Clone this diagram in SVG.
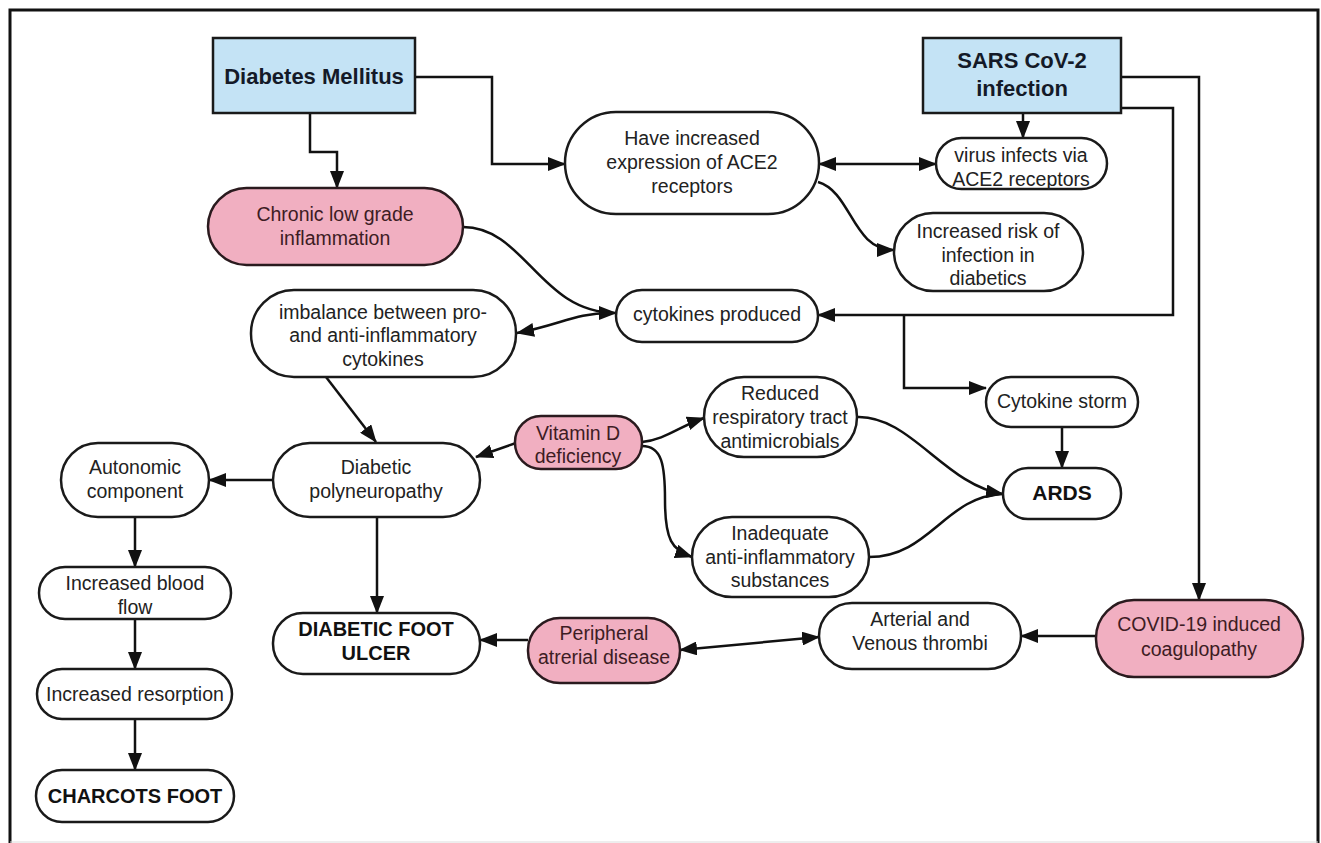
<svg xmlns="http://www.w3.org/2000/svg" width="1321" height="843" viewBox="0 0 1321 843">
<defs>
<marker id="ah" viewBox="0 0 18 14" refX="17" refY="7" markerWidth="18" markerHeight="14" markerUnits="userSpaceOnUse" orient="auto-start-reverse">
<path d="M0,0 L18,7 L0,14 z" fill="#111"/>
</marker>
<style>
.n{fill:#fff;stroke:#1a1a1a;stroke-width:2.5}
.p{fill:#f1afc1;stroke:#2a1a1e;stroke-width:2.5}
.b{fill:#c4e3f5;stroke:#1a1a1a;stroke-width:2.5}
text{font-family:"Liberation Sans",Arial,sans-serif;font-size:19.5px;fill:#222;text-anchor:middle}
.bt{font-weight:bold;font-size:21px;fill:#111}
.bl{font-weight:bold;font-size:22px;fill:#141a28}
.pt{fill:#3d1c24}
.c{fill:none;stroke:#111;stroke-width:2.5}
.c path,.c polyline{fill:none}
</style>
</defs>
<rect x="0" y="0" width="1321" height="843" fill="#fff"/>
<rect x="10" y="10" width="1308" height="840" fill="#fff" stroke="#111" stroke-width="3"/>
<line x1="10" y1="842" x2="1318" y2="842" stroke="#ddd" stroke-width="1"/>

<g id="connectors" class="c">
<polyline points="415,77 492,77 492,164 565,164" marker-end="url(#ah)"/>
<polyline points="310,113 310,152 337,152 337,188" marker-end="url(#ah)"/>
<polyline points="1023,113 1023,138" marker-end="url(#ah)"/>
<polyline points="819,164 936,164" marker-start="url(#ah)" marker-end="url(#ah)"/>
<path d="M818,182 C852,192 852,250 894,250" marker-end="url(#ah)"/>
<path d="M463,227 C525,227 540,313 616,313" marker-end="url(#ah)"/>
<path d="M517,333 C560,325 575,313 610,313" marker-start="url(#ah)"/>
<polyline points="1121,108 1173,108 1173,315 818,315" marker-end="url(#ah)"/>
<polyline points="904,315 904,388 986,388" marker-end="url(#ah)"/>
<polyline points="1121,77 1199,77 1199,600" marker-end="url(#ah)"/>
<polyline points="1062,427 1062,468" marker-end="url(#ah)"/>
<polyline points="326,377 376,442" marker-end="url(#ah)"/>
<polyline points="516,443 476,457" marker-end="url(#ah)"/>
<path d="M642,442 C665,440 680,426 704,418" marker-end="url(#ah)"/>
<path d="M642,446 C662,446 665,465 665,500 C665,540 672,550 692,557" marker-end="url(#ah)"/>
<path d="M857,417 C910,415 945,485 1003,494" marker-end="url(#ah)"/>
<path d="M869,557 C930,557 945,496 1003,494"/>
<polyline points="1096,636 1021,636" marker-end="url(#ah)"/>
<polyline points="819,637 680,650" marker-start="url(#ah)" marker-end="url(#ah)"/>
<polyline points="528,640 480,640" marker-end="url(#ah)"/>
<polyline points="273,480 209,480" marker-end="url(#ah)"/>
<polyline points="377,517 377,613" marker-end="url(#ah)"/>
<polyline points="135,517 135,567" marker-end="url(#ah)"/>
<polyline points="135,619 135,669" marker-end="url(#ah)"/>
<polyline points="135,719 135,770" marker-end="url(#ah)"/>
</g>

<g id="dm"><rect class="b" x="213" y="38" width="202" height="75"/><text class="bl" x="314" y="84">Diabetes Mellitus</text></g>
<g id="sars"><rect class="b" x="923" y="38" width="198" height="75"/><text class="bl" x="1022" y="68">SARS CoV-2</text><text class="bl" x="1022" y="96">infection</text></g>
<g id="ace2"><rect class="n" x="565" y="112" width="254" height="102" rx="51"/><text x="692" y="145">Have increased</text><text x="692" y="169">expression of ACE2</text><text x="692" y="193">receptors</text></g>
<g id="virus"><rect class="n" x="936" y="138" width="171" height="51" rx="25.5"/><text x="1021" y="162">virus infects via</text><text x="1021" y="186">ACE2 receptors</text></g>
<g id="risk"><rect class="n" x="894" y="213" width="189" height="78" rx="39"/><text x="988" y="238">Increased risk of</text><text x="988" y="262">infection in</text><text x="988" y="285">diabetics</text></g>
<g id="chronic"><rect class="p" x="208" y="188" width="255" height="77" rx="38.5"/><text class="pt" x="335" y="221">Chronic low grade</text><text class="pt" x="335" y="245">inflammation</text></g>
<g id="cytokines"><rect class="n" x="616" y="290" width="202" height="52" rx="26"/><text x="717" y="321">cytokines produced</text></g>
<g id="imbalance"><rect class="n" x="251" y="290" width="265" height="87" rx="43"/><text x="383" y="319">imbalance between pro-</text><text x="383" y="342">and anti-inflammatory</text><text x="383" y="366">cytokines</text></g>
<g id="storm"><rect class="n" x="986" y="377" width="152" height="50" rx="25"/><text x="1062" y="408">Cytokine storm</text></g>
<g id="vitd"><rect class="p" x="515" y="416" width="127" height="53" rx="26"/><text class="pt" x="578" y="440">Vitamin D</text><text class="pt" x="578" y="463">deficiency</text></g>
<g id="reduced"><rect class="n" x="704" y="377" width="153" height="80" rx="40"/><text x="780" y="400">Reduced</text><text x="780" y="424">respiratory tract</text><text x="780" y="448">antimicrobials</text></g>
<g id="poly"><rect class="n" x="273" y="443" width="207" height="74" rx="37"/><text x="376" y="474">Diabetic</text><text x="376" y="498">polyneuropathy</text></g>
<g id="autonomic"><rect class="n" x="61" y="443" width="148" height="74" rx="37"/><text x="135" y="474">Autonomic</text><text x="135" y="498">component</text></g>
<g id="ards"><rect class="n" x="1003" y="468" width="118" height="51" rx="25"/><text class="bt" x="1062" y="500">ARDS</text></g>
<g id="inadequate"><rect class="n" x="692" y="517" width="177" height="80" rx="40"/><text x="780" y="540">Inadequate</text><text x="780" y="564">anti-inflammatory</text><text x="780" y="587">substances</text></g>
<g id="bloodflow"><rect class="n" x="39" y="567" width="192" height="52" rx="26"/><text x="135" y="590">Increased blood</text><text x="135" y="614">flow</text></g>
<g id="arterial"><rect class="n" x="819" y="603" width="202" height="66" rx="33"/><text x="920" y="626">Arterial and</text><text x="920" y="650">Venous thrombi</text></g>
<g id="covid"><rect class="p" x="1096" y="600" width="207" height="77" rx="38"/><text class="pt" x="1199" y="631">COVID-19 induced</text><text class="pt" x="1199" y="656">coagulopathy</text></g>
<g id="dfu"><rect class="n" x="273" y="613" width="207" height="61" rx="30"/><text class="bt" x="376" y="636" style="font-size:20px">DIABETIC FOOT</text><text class="bt" x="376" y="660" style="font-size:20px">ULCER</text></g>
<g id="peripheral"><rect class="p" x="528" y="618" width="152" height="65" rx="32"/><text class="pt" x="604" y="640">Peripheral</text><text class="pt" x="604" y="664">atrerial disease</text></g>
<g id="resorption"><rect class="n" x="37" y="669" width="195" height="50" rx="25"/><text x="135" y="701">Increased resorption</text></g>
<g id="charcots"><rect class="n" x="36" y="770" width="198" height="52" rx="26"/><text class="bt" x="135" y="803" style="font-size:20px">CHARCOTS FOOT</text></g>
</svg>
